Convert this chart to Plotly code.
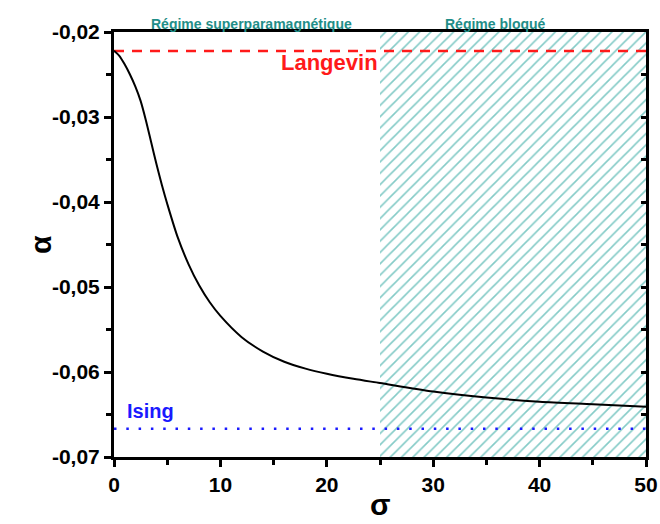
import plotly.graph_objects as go

# ---- data ----
sigma = [0, 0.5, 1, 1.5, 2, 2.5, 3, 3.5, 4, 4.5, 5, 6, 7, 8, 9, 10, 12, 14, 16, 18,
         20, 22.5, 25, 30, 35, 40, 45, 50]
alpha = [-0.0222, -0.0228, -0.0238, -0.0250, -0.0264, -0.0281, -0.0304, -0.0330,
         -0.0356, -0.0380, -0.0402, -0.0442, -0.0473, -0.0498, -0.0518, -0.0534,
         -0.0559, -0.0576, -0.0588, -0.0596, -0.0602, -0.0608, -0.0613, -0.0623,
         -0.0630, -0.0635, -0.0638, -0.0641]
langevin = -1 / 45
ising = -1 / 15
blocked_range = [25, 50]
x_range = [0, 50]
y_range = [-0.07, -0.02]
x_ticks = [0, 10, 20, 30, 40, 50]
x_ticklabels = ["0", "10", "20", "30", "40", "50"]
y_ticks = [-0.07, -0.06, -0.05, -0.04, -0.03, -0.02]
y_ticklabels = ["-0,07", "-0,06", "-0,05", "-0,04", "-0,03", "-0,02"]

FONT = "Liberation Sans, Arial, sans-serif"
TEAL = "#1f8e88"

fig = go.Figure()

# hatched blocked region
fig.add_trace(go.Scatter(
    x=[blocked_range[0], blocked_range[1], blocked_range[1], blocked_range[0], blocked_range[0]],
    y=[y_range[0], y_range[0], y_range[1], y_range[1], y_range[0]],
    fill="toself", mode="lines", line=dict(width=0, color="rgba(0,0,0,0)"),
    fillcolor="rgba(0,0,0,0)",
    fillpattern=dict(shape="/", fgcolor="#84cbc7", bgcolor="rgba(0,0,0,0)",
                     size=8, solidity=0.2, fgopacity=1),
    hoverinfo="skip", showlegend=False))

# Langevin limit
fig.add_trace(go.Scatter(x=x_range, y=[langevin, langevin], mode="lines",
                         line=dict(color="#ff1a1a", width=2.5, dash="10px,8px"),
                         showlegend=False))
# Ising limit
fig.add_trace(go.Scatter(x=x_range, y=[ising, ising], mode="lines",
                         line=dict(color="#1a1aff", width=2.5, dash="2.5px,9.8px"),
                         showlegend=False))
# curve
fig.add_trace(go.Scatter(x=sigma, y=alpha, mode="lines",
                         line=dict(color="black", width=2, shape="spline", smoothing=0.8),
                         showlegend=False))
# dummy for right axis
fig.add_trace(go.Scatter(x=[None], y=[None], yaxis="y2", showlegend=False))

tickfont = dict(family=FONT, size=21, color="black", weight="bold")

fig.update_layout(
    width=660, height=524,
    margin=dict(l=114, r=14, t=32, b=67),
    paper_bgcolor="white", plot_bgcolor="white",
    font=dict(family=FONT),
    xaxis=dict(range=x_range, tickvals=x_ticks, ticktext=x_ticklabels,
               showgrid=False, zeroline=False, showline=True, linecolor="black",
               linewidth=3, mirror=True, ticks="outside", ticklen=7, tickwidth=2.5,
               tickcolor="black", tickfont=tickfont, automargin=False,
               minor=dict(dtick=5, ticks="outside", ticklen=5, tickwidth=2.5,
                          tickcolor="black", showgrid=False)),
    yaxis=dict(range=y_range, tickvals=y_ticks, ticktext=y_ticklabels,
               showgrid=False, zeroline=False, showline=True, linecolor="black",
               linewidth=3, mirror=True, ticks="outside", ticklen=7, tickwidth=2.5,
               tickcolor="black", tickfont=tickfont, automargin=False,
               minor=dict(dtick=0.005, tick0=0, ticks="outside", ticklen=5, tickwidth=2.5,
                          tickcolor="black", showgrid=False)),
    yaxis2=dict(range=y_range, overlaying="y", side="right", anchor="x",
                tickvals=y_ticks, showticklabels=False, showgrid=False, zeroline=False,
                showline=False, ticks="inside", ticklen=5, tickwidth=2.5, tickcolor="black",
                automargin=False,
                minor=dict(dtick=0.005, tick0=0, ticks="inside", ticklen=5, tickwidth=2.5,
                           tickcolor="black", showgrid=False)),
    annotations=[
        dict(text="Régime superparamagnétique", x=12.9, y=1, xref="x", yref="paper",
             yshift=18, showarrow=False,
             font=dict(family=FONT, size=14, color=TEAL, weight="bold")),
        dict(text="Régime bloqué", x=35.9, y=1, xref="x", yref="paper",
             yshift=18, showarrow=False,
             font=dict(family=FONT, size=14, color=TEAL, weight="bold")),
        dict(text="Langevin", x=20.3, y=-0.02356, xref="x", yref="y", showarrow=False,
             font=dict(family=FONT, size=22, color="#ff1a1a", weight="bold")),
        dict(text="Ising", x=1.0, y=-0.0646, xref="x", yref="y", xanchor="left",
             showarrow=False,
             font=dict(family=FONT, size=20, color="#1a1aff", weight="bold")),
        dict(text="σ", x=0.5, y=0, xref="paper", yref="paper", yshift=-47,
             yanchor="middle", showarrow=False,
             font=dict(family=FONT, size=30, color="black", weight="bold")),
        dict(text="α", x=0, y=0.5, xref="paper", yref="paper", xshift=-92,
             textangle=-90, showarrow=False,
             font=dict(family=FONT, size=30, color="black", weight="bold")),
    ],
)

fig.write_html("out.html",
               config={"displayModeBar": False},
               post_script="document.body.style.margin='0px';"
                           "document.body.style.overflow='hidden';")
